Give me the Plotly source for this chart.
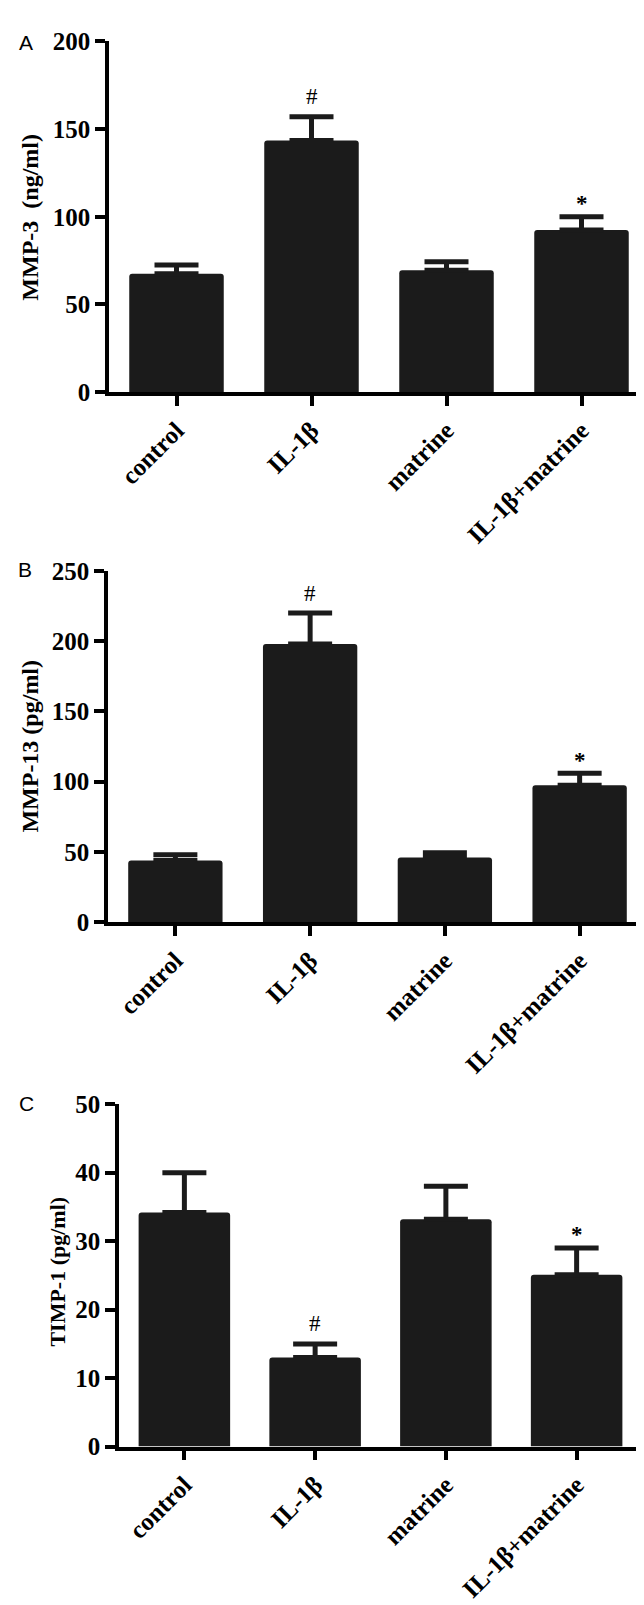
import plotly.graph_objects as go
from plotly.subplots import make_subplots

# ---- data
groups = ["control", "IL-1β", "matrine", "IL-1β+matrine"]

mmp3_mean = [67.5, 143.5, 69.5, 92.5]
mmp3_err = [5.0, 13.5, 4.8, 7.5]

mmp13_mean = [44, 198, 46, 97.5]
mmp13_err = [4, 22, 3.5, 8.5]

timp1_mean = [34.2, 13.0, 33.2, 25.1]
timp1_err = [5.8, 2.0, 4.8, 3.9]

# significance marks: (group, symbol)
mmp3_marks = [("IL-1β", "#"), ("IL-1β+matrine", "*")]
mmp13_marks = [("IL-1β", "#"), ("IL-1β+matrine", "*")]
timp1_marks = [("IL-1β", "#"), ("IL-1β+matrine", "*")]

BAR = "#1b1b1b"
SERIF = "Liberation Serif"
W, H = 644, 1605

# pixel boxes of each panel, measured on the reference
panels = [
    dict(mean=mmp3_mean, err=mmp3_err, marks=mmp3_marks, yr=[0, 200], dt=50,
         title="MMP-3  (ng/ml)", tsize=24, letter="A",
         xpx=(101, 641), ypx=(20.7, 377.5), tpos=(22, 200), lpos=(18, 22)),
    dict(mean=mmp13_mean, err=mmp13_err, marks=mmp13_marks, yr=[0, 250], dt=50,
         title="MMP-13 (pg/ml)", tsize=24, letter="B",
         xpx=(100, 639), ypx=(559.3, 916.7), tpos=(22, 738), lpos=(17, 558)),
    dict(mean=timp1_mean, err=timp1_err, marks=timp1_marks, yr=[0, 50], dt=10,
         title="TIMP-1 (pg/ml)", tsize=22, letter="C",
         xpx=(111, 634), ypx=(1101.7, 1450), tpos=(50, 1272), lpos=(18, 1101)),
]

fig = make_subplots(rows=3, cols=1)

for i, p in enumerate(panels, start=1):
    fig.add_trace(
        go.Bar(
            x=groups, y=p["mean"],
            marker=dict(color=BAR, line=dict(width=0), cornerradius=3),
            width=0.7,
            error_y=dict(type="data", array=p["err"], arrayminus=[0] * 4, symmetric=False,
                         color=BAR, thickness=5, width=22),
            showlegend=False,
        ),
        row=i, col=1,
    )

    xa = "xaxis" if i == 1 else f"xaxis{i}"
    ya = "yaxis" if i == 1 else f"yaxis{i}"
    fig.layout[xa].update(
        domain=[p["xpx"][0] / W, p["xpx"][1] / W],
        range=[-0.5, 3.5], showgrid=False, zeroline=False,
        showline=True, linecolor="black", linewidth=3.5,
        ticks="outside", ticklen=10, tickwidth=3.5, tickcolor="black",
        tickangle=-45,
        tickfont=dict(family=SERIF, size=25, color="black", weight="bold"),
    )
    fig.layout[ya].update(
        domain=[1 - p["ypx"][1] / H, 1 - p["ypx"][0] / H],
        range=p["yr"], dtick=p["dt"], showgrid=False, zeroline=False,
        showline=True, linecolor="black", linewidth=3.5,
        ticks="outside", ticklen=10, tickwidth=3.5, tickcolor="black",
        tickfont=dict(family=SERIF, size=25, color="black", weight="bold"),
    )

    xref = "x" if i == 1 else f"x{i}"
    yref = "y" if i == 1 else f"y{i}"
    for g, sym in p["marks"]:
        k = groups.index(g)
        fig.add_annotation(
            x=g, y=p["mean"][k] + p["err"][k], xref=xref, yref=yref,
            text=sym, showarrow=False, yanchor="middle",
            yshift=20 if sym == "#" else 13,
            font=dict(family=SERIF, size=23, color="black",
                      weight="normal" if sym == "#" else "bold"),
        )

    # axis title and panel letter
    fig.add_annotation(
        x=p["tpos"][0] / W, y=1 - p["tpos"][1] / H, xref="paper", yref="paper",
        text=p["title"], textangle=-90, showarrow=False,
        xanchor="center", yanchor="middle",
        font=dict(family=SERIF, size=p["tsize"], color="black", weight="bold"),
    )
    fig.add_annotation(
        x=p["lpos"][0] / W, y=1 - p["lpos"][1] / H, xref="paper", yref="paper",
        text=p["letter"], showarrow=False, xanchor="center", yanchor="middle",
        font=dict(family="Liberation Sans", size=21, color="black"),
    )

fig.update_layout(
    width=W, height=H,
    margin=dict(l=0, r=0, t=0, b=0),
    plot_bgcolor="white", paper_bgcolor="white",
)

fig.write_html("out.html")
